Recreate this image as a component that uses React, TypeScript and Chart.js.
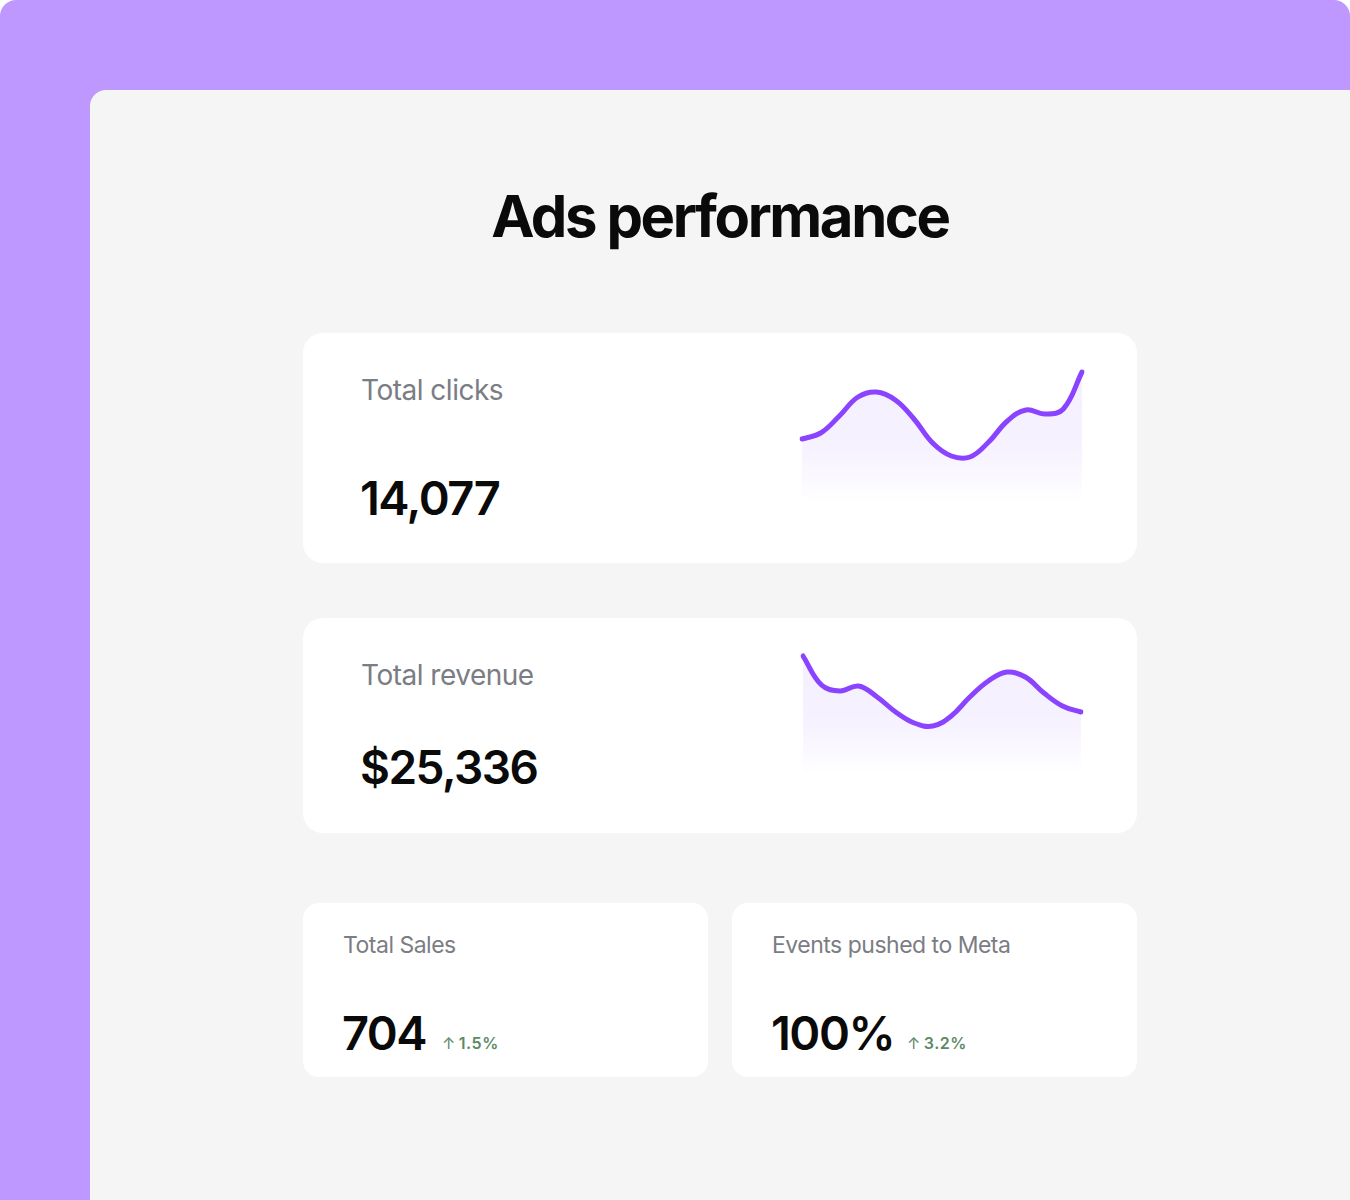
import React, { useEffect, useRef } from "react";
import { Chart, registerables } from "chart.js";

Chart.register(...registerables);

const periods = ["P1", "P2", "P3", "P4", "P5", "P6", "P7", "P8", "P9", "P10", "P11", "P12", "P13", "P14", "P15", "P16"];
const clicksSeries = [65, 71, 88, 107, 112, 104, 85, 61, 48, 47, 62, 83, 94, 90, 95, 132];
const revenueSeries = [118, 89, 83, 88, 77, 62, 51, 48, 58, 77, 93, 102, 97, 81, 68, 62];
const clicksMax = 138;
const revenueMax = 124;

const titleText = "Ads performance";
const totalClicks = "14,077";
const totalRevenue = "$25,336";
const totalSales = "704";
const salesChange = "1.5%";
const eventsPushed = "100%";
const eventsChange = "3.2%";

const LINE = "#8a44ff";
const FONT = "Inter, 'Noto Sans', sans-serif";

function Sparkline(props: { values: number[]; max: number; style: React.CSSProperties; w: number; h: number }) {
  const ref = useRef<HTMLCanvasElement | null>(null);
  useEffect(() => {
    if (!ref.current) return;
    const chart = new Chart(ref.current, {
      type: "line",
      data: {
        labels: periods,
        datasets: [
          {
            data: props.values,
            borderColor: LINE,
            borderWidth: 5,
            borderCapStyle: "round",
            borderJoinStyle: "round",
            tension: 0.4,
            pointRadius: 0,
            fill: "start",
            backgroundColor: (ctx: any) => {
              const area = ctx.chart.chartArea;
              if (!area) return "rgba(160,110,255,0.1)";
              const g = ctx.chart.ctx.createLinearGradient(0, area.top, 0, area.bottom);
              g.addColorStop(0, "rgba(160,110,255,0.11)");
              g.addColorStop(0.6, "rgba(160,110,255,0.09)");
              g.addColorStop(1, "rgba(160,110,255,0)");
              return g;
            },
          },
        ],
      },
      options: {
        animation: false,
        responsive: false,
        maintainAspectRatio: false,
        layout: { padding: { left: 6, right: 6, top: 6, bottom: 0 } },
        plugins: { legend: { display: false }, tooltip: { enabled: false } },
        scales: {
          x: { display: false, offset: false },
          y: { display: false, min: 0, max: props.max },
        },
      } as any,
    });
    return () => chart.destroy();
  }, []);
  return <canvas ref={ref} width={props.w} height={props.h} style={{ position: "absolute", ...props.style, width: props.w, height: props.h }} />;
}

const card: React.CSSProperties = {
  position: "absolute",
  background: "#ffffff",
  borderRadius: 20,
};

const label: React.CSSProperties = {
  position: "absolute",
  color: "#7b7d84",
  fontFamily: FONT,
  fontWeight: 400,
  whiteSpace: "nowrap",
  lineHeight: 1,
};

const big: React.CSSProperties = {
  position: "absolute",
  color: "#0a0a0a",
  fontFamily: FONT,
  fontWeight: 600,
  whiteSpace: "nowrap",
  lineHeight: 1,
  letterSpacing: -1.5,
};

const change: React.CSSProperties = {
  position: "absolute",
  color: "#5b8a68",
  fontFamily: FONT,
  fontWeight: 600,
  fontSize: 16,
  whiteSpace: "nowrap",
  lineHeight: 1,
  letterSpacing: 0.5,
};

export default function App() {
  return (
    <div style={{ position: "absolute", left: 0, top: 0, width: 1350, height: 1200, background: "#ffffff", overflow: "hidden" }}>
      <div style={{ position: "absolute", left: 0, top: 0, width: 1350, height: 1200, background: "#bf98ff", borderRadius: "16px 16px 0 0" }} />
      <div style={{ position: "absolute", left: 90, top: 90, width: 1260, height: 1110, background: "#f5f5f5", borderRadius: "16px 0 0 0" }} />

      <div style={{ position: "absolute", left: 90, width: 1260, top: 187, textAlign: "center", fontFamily: FONT, fontWeight: 700, fontSize: 58, letterSpacing: -2.4, color: "#0a0a0a", lineHeight: 1 }}>
        <span style={{ position: "relative", left: 0 }}>{titleText}</span>
      </div>

      <div style={{ ...card, left: 303, top: 333, width: 834, height: 230 }} />
      <div style={{ ...label, left: 361, top: 376, fontSize: 28, letterSpacing: -0.5 }}>Total clicks</div>
      <div style={{ ...big, left: 360, top: 474, fontSize: 47 }}>{totalClicks}</div>
      <Sparkline values={clicksSeries} max={clicksMax} w={292} h={144} style={{ left: 796, top: 360 }} />

      <div style={{ ...card, left: 303, top: 618, width: 834, height: 215 }} />
      <div style={{ ...label, left: 361, top: 661, fontSize: 28, letterSpacing: -0.5 }}>Total revenue</div>
      <div style={{ ...big, left: 360, top: 744, fontSize: 46 }}>{totalRevenue}</div>
      <Sparkline values={revenueSeries} max={revenueMax} w={290} h={130} style={{ left: 797, top: 644 }} />

      <div style={{ ...card, left: 303, top: 903, width: 405, height: 174, borderRadius: 16 }} />
      <div style={{ ...label, left: 343, top: 934, fontSize: 23, letterSpacing: -0.5 }}>Total Sales</div>
      <div style={{ ...big, left: 342, top: 1009, fontSize: 47 }}>{totalSales}</div>
      <div style={{ ...change, left: 442, top: 1035 }}>
        <span style={{ fontWeight: 400, marginRight: 3 }}>↑</span>
        {salesChange}
      </div>

      <div style={{ ...card, left: 732, top: 903, width: 405, height: 174, borderRadius: 16 }} />
      <div style={{ ...label, left: 772, top: 934, fontSize: 23, letterSpacing: -0.5 }}>Events pushed to Meta</div>
      <div style={{ ...big, left: 771, top: 1009, fontSize: 47 }}>{eventsPushed}</div>
      <div style={{ ...change, left: 907, top: 1035 }}>
        <span style={{ fontWeight: 400, marginRight: 3 }}>↑</span>
        {eventsChange}
      </div>
    </div>
  );
}
